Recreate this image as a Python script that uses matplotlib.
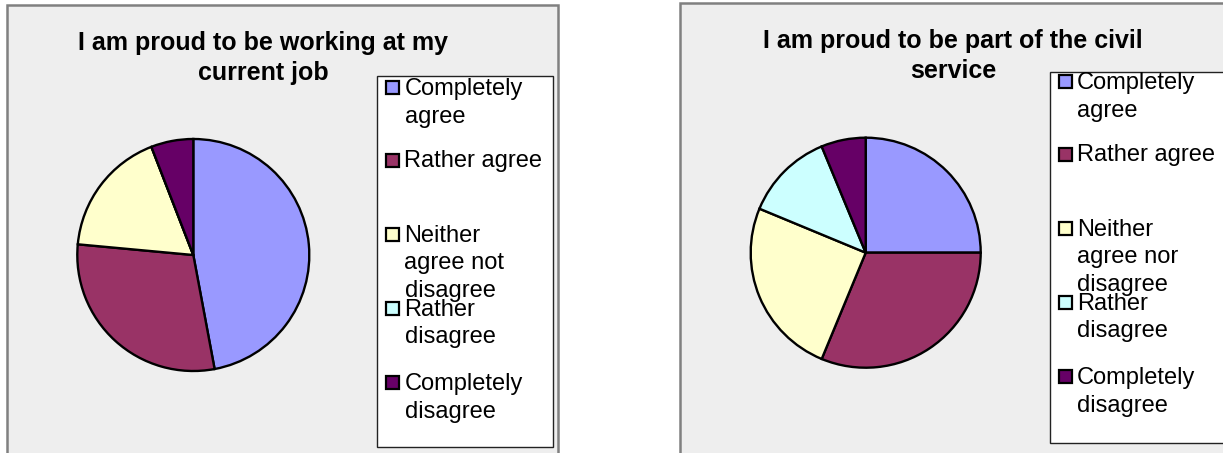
import matplotlib
matplotlib.use("Agg")
import matplotlib.pyplot as plt
from matplotlib.patches import Rectangle

plt.rcParams['font.family'] = ['Liberation Sans', 'DejaVu Sans']

W, H = 1223, 453

categories = ["Completely agree", "Rather agree", "Neither agree not disagree",
              "Rather disagree", "Completely disagree"]
colors = ["#9999FF", "#993366", "#FFFFCC", "#CCFFFF", "#660066"]

# left chart: proud of current job (counts)
job_values = [8, 5, 3, 0, 1]
job_title = ["I am proud to be working at my", "current job"]
job_labels = [["Completely", "agree"], ["Rather agree"],
              ["Neither", "agree not", "disagree"], ["Rather", "disagree"],
              ["Completely", "disagree"]]

# right chart: proud of civil service (counts)
civil_values = [4, 5, 4, 2, 1]
civil_title = ["I am proud to be part of the civil", "service"]
civil_labels = [["Completely", "agree"], ["Rather agree"],
                ["Neither", "agree nor", "disagree"], ["Rather", "disagree"],
                ["Completely", "disagree"]]

fig = plt.figure(figsize=(W / 100, H / 100), dpi=100)
bg = fig.add_axes([0, 0, 1, 1])
bg.set_xlim(0, W)
bg.set_ylim(H, 0)
bg.axis('off')


def px_axes(x, y, w, h):
    return fig.add_axes([x / W, 1 - (y + h) / H, w / W, h / H])


def draw_chart(box, title, title_x, title_base, pie_c, r, values, leg_box, labels,
               marker_x, text_x, marker_ys):
    bx, by, bw, bh = box
    bg.add_patch(Rectangle((bx, by), bw, bh, facecolor="#EEEEEE",
                           edgecolor="#808080", linewidth=1.8))
    for i, line in enumerate(title):
        bg.text(title_x, title_base + i * 30, line, ha='center', va='baseline',
                fontsize=18, fontweight='bold', color='black')
    lx, ly, lw, lh = leg_box
    bg.add_patch(Rectangle((lx, ly), lw, lh, facecolor="white",
                           edgecolor="#222222", linewidth=1.0))
    for lab, col, my in zip(labels, colors, marker_ys):
        bg.add_patch(Rectangle((marker_x, my - 6.5), 13, 13, facecolor=col,
                               edgecolor="black", linewidth=1.6))
        for j, line in enumerate(lab):
            bg.text(text_x, my + 7.5 + j * 28, line, ha='left', va='baseline',
                    fontsize=17, color='black')

    ax = px_axes(pie_c[0] - r, pie_c[1] - r, 2 * r, 2 * r)
    wedges, _ = ax.pie(values, colors=colors, startangle=90, counterclock=False,
                       wedgeprops=dict(edgecolor='black', linewidth=1.7))
    for w in wedges:
        w.set_clip_on(False)
    ax.set_xlim(-1, 1)
    ax.set_ylim(-1, 1)
    ax.axis('off')


left_markers = [87.5, 160, 234, 308, 382.5]
draw_chart((7.3, 5.3, 551, 460), job_title, 263, 50, (193.3, 255), 116,
           job_values, (377.3, 76, 175.4, 371), job_labels,
           385.5, 404.5, left_markers)

right_markers = [m - 6 for m in left_markers]
draw_chart((680, 3.3, 560, 460), civil_title, 953, 48, (865.7, 252.7), 115,
           civil_values, (1050, 71.7, 200, 371.3), civil_labels,
           1059, 1077, right_markers)

fig.savefig("out.png", dpi=100)
